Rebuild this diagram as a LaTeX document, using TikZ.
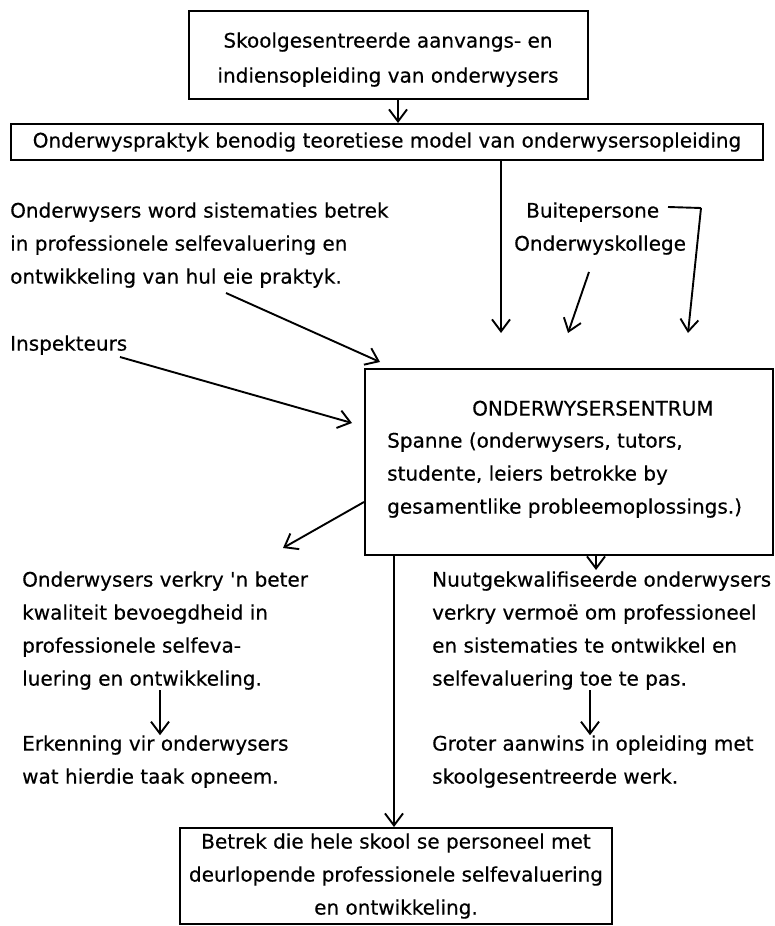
\documentclass[tikz,border=0pt]{standalone}
\usepackage{fontspec}
\setmainfont{DejaVu Sans}[FakeBold=0.4, Ligatures=TeXOff]
\usetikzlibrary{arrows.meta}
\begin{document}
\begin{tikzpicture}[x=1pt,y=-1pt,
  lbl/.style={inner sep=0pt, anchor=north west, align=left, font=\fontsize{20}{33}\selectfont},
  frame/.style={draw, line width=2pt, inner sep=0pt},
  arr/.style={line width=1.9pt, -{Straight Barb[length=12pt,width=18pt]}},
  ln/.style={line width=1.9pt}]
\useasboundingbox (0,0) rectangle (774,926);

% top box
\node[frame, minimum width=399pt, minimum height=88pt] (top) at (388.5,55) {};
\node[lbl, anchor=north, align=center, font=\fontsize{20}{35}\selectfont] (toptxt) at (388,32.2)
  {Skoolgesentreerde aanvangs- en\\indiensopleiding van onderwysers};

% model box
\node[frame, minimum width=752pt, minimum height=36pt, font=\fontsize{20}{33}\selectfont] (model) at (387,142)
  {Onderwyspraktyk benodig teoretiese model van onderwysersopleiding};

\draw[arr] (top.south -| 398,0) -- (model.north -| 398,0);

% upper texts
\node[lbl] (betrek) at (10,202.2) {Onderwysers word sistematies betrek\\in professionele selfevaluering en\\ontwikkeling van hul eie praktyk.};
\node[lbl] (buite) at (526,202.2) {Buitepersone};
\node[lbl] (kollege) at (514,235.2) {Onderwyskollege};
\node[lbl] (insp) at (10,335.2) {Inspekteurs};

% centre box
\node[frame, minimum width=408pt, minimum height=186pt] (ctr) at (569,462) {};
\node[lbl] (ctrtitle) at (472,400.5) {ONDERWYSERSENTRUM};
\node[lbl] (ctrtxt) at (387,432.2) {Spanne (onderwysers, tutors,\\studente, leiers betrokke by\\gesamentlike probleemoplossings.)};

% free ends
\coordinate (tipA) at (501,333);
\coordinate (tipK) at (568,333);
\coordinate (tipB) at (688,333);
\coordinate (brA) at (668,207);
\coordinate (brB) at (701,208);
\coordinate (tipP) at (380,362);
\coordinate (tipI) at (352,423);
\coordinate (tipL) at (283,548);

\draw[arr] (model.south -| 501,0) -- (tipA);
\draw[arr] (589,272) -- (tipK);
\draw[ln] (brA) -- (brB);
\draw[arr] (brB) -- (tipB);
\draw[arr] (226,293) -- (tipP);
\draw[arr] (120,357) -- (tipI);
\draw[arr] (ctr.west |- 0,502) -- (tipL);

% lower texts
\node[lbl] (verkry) at (22,571.2) {Onderwysers verkry 'n beter\\kwaliteit bevoegdheid in\\professionele selfeva-\\luering en ontwikkeling.};
\node[lbl] (erken) at (22,735.2) {Erkenning vir onderwysers\\wat hierdie taak opneem.};
\node[lbl] (nuut) at (432,571.2) {Nuutgekwalifiseerde onderwysers\\verkry vermoë om professioneel\\en sistematies te ontwikkel en\\selfevaluering toe te pas.};
\node[lbl] (groter) at (432,735.2) {Groter aanwins in opleiding met\\skoolgesentreerde werk.};

\draw[arr] (160,690) -- (erken.north -| 160,0);
\draw[arr] (590,690) -- (groter.north -| 590,0);
\draw[arr] (ctr.south -| 596,0) -- (596,570);

% final box
\node[frame, minimum width=432pt, minimum height=96pt, align=center, font=\fontsize{20}{33}\selectfont] (final) at (396,876)
  {Betrek die hele skool se personeel met\\deurlopende professionele selfevaluering\\en ontwikkeling.};

\draw[arr] (ctr.south -| 394,0) -- (final.north -| 394,0);
\end{tikzpicture}
\end{document}
